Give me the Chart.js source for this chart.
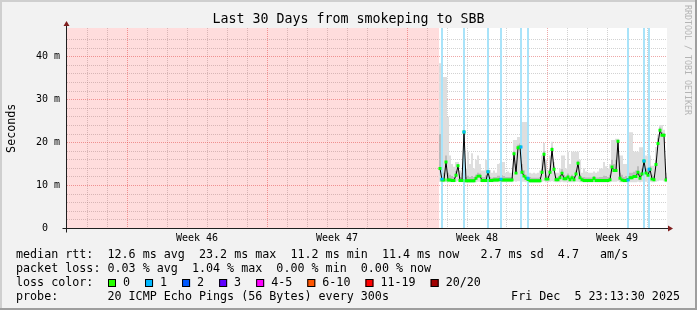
<!DOCTYPE html>
<html>
<head>
<meta charset="utf-8">
<title>smokeping SBB</title>
<style>
  html, body { margin: 0; padding: 0; background: #f2f2f2; }
  canvas { display: block; }
</style>
<script src="https://cdn.jsdelivr.net/npm/chart.js"></script>
</head>
<body>
<canvas id="chart" width="697" height="310"></canvas>
<script>
/* values, time in days from the start of the 30 day window */
var firstDay = 18.65;   // first sample that has data
var stepDay = 0.1;      // one sample every 2.4 h

// median rtt (ms)
var medianRtt = [
  14.0, 11.3, 11.3, 15.5, 11.3, 11.3, 11.2, 11.2, 12.4, 14.6,
  11.2, 11.2, 22.5, 11.1, 11.1, 11.1, 11.1, 11.1, 11.7, 12.2,
  12.2, 11.2, 11.2, 11.2, 13.2, 11.2, 11.2, 11.3, 11.3, 11.3,
  11.4, 11.3, 11.3, 11.3, 11.3, 11.3, 11.3, 17.4, 12.9, 18.8,
  19.0, 13.1, 12.2, 11.7, 11.4, 11.1, 11.1, 11.1, 11.1, 11.1,
  11.1, 13.1, 17.3, 11.5, 11.5, 13.1, 18.4, 13.8, 11.35, 11.35,
  11.8, 12.9, 11.6, 11.6, 12.0, 11.35, 11.8, 11.35, 12.7, 15.2,
  11.8, 11.35, 11.2, 11.2, 11.2, 11.2, 11.2, 11.7, 11.2, 11.2,
  11.2, 11.2, 11.2, 11.2, 11.2, 11.35, 14.3, 13.5, 13.5, 20.3,
  11.7, 11.3, 11.2, 11.2, 11.4, 11.8, 11.8, 12.1, 12.1, 13.1,
  11.7, 12.7, 15.7, 12.9, 12.4, 13.8, 11.5, 11.35, 14.9, 19.8,
  22.9, 21.7, 21.7, 11.3
];
// highest ping of each sample (light smoke top)
var smokeMax = [
  38.5, 38.5, 35.3, 35.3, 26, 17, 15, 14.4, 15.5, 15.5,
  13.5, 13, 50, 14, 17.9, 15, 17.5, 14, 16, 17,
  15, 13.5, 13.5, 16, 19, 13.6, 13, 13.5, 13, 15,
  15.2, 15.5, 15.5, 13, 13.3, 13, 13, 20.6, 20.6, 21.3,
  21.3, 24.8, 24.8, 24.8, 18, 13, 12.8, 13, 12.8, 13,
  13.5, 17, 19.9, 16, 13.5, 17, 20.2, 15.5, 13, 13,
  14, 17, 17, 14, 17.9, 15, 17.9, 17.9, 17.9, 17.9,
  16, 13, 14, 13.3, 13, 13, 13, 13.3, 13, 13.3,
  14, 14, 15.5, 14.5, 14, 15, 20.6, 20.6, 20.9, 20.9,
  17, 17, 15, 15, 14, 22.4, 22.4, 17.9, 17.9, 17.9,
  18.9, 18.9, 18.9, 17, 17, 17, 14.6, 14.6, 19, 22,
  24.1, 24.1, 23, 13
];
// upper edge of the dense smoke above the median
var smokeMid = [
  22, 14, 13, 17, 13, 12.5, 12.2, 12, 13.4, 15,
  12, 11.8, 40, 12, 12.3, 12, 12.2, 12, 12.5, 13,
  12.8, 12, 12, 12.4, 14.5, 12, 11.8, 12, 12, 12.3,
  12.3, 12.4, 12.2, 12, 12, 12, 12, 18, 15, 19.5,
  19.8, 15, 13.5, 12.5, 12.2, 12, 11.8, 11.8, 11.8, 11.8,
  12, 14, 18, 12.5, 12.2, 14, 19, 14.5, 12, 12,
  12.5, 13.8, 12.5, 12.2, 12.8, 12, 12.5, 12.2, 13.5, 15.8,
  12.5, 12, 12, 11.9, 11.9, 11.9, 11.9, 12.2, 11.9, 11.9,
  12, 12, 12.3, 12.2, 12, 12.5, 16, 15, 16, 20.5,
  13, 12.5, 12, 12.2, 12.2, 13, 13, 13.2, 13.5, 14.5,
  13, 14, 16.5, 14, 13.5, 14.5, 12.5, 12.2, 16, 21,
  23.5, 22.5, 22.2, 12
];
// lowest ping of each sample
var smokeMin = [
  10.9, 10.8, 10.8, 10.9, 10.8, 10.8, 10.8, 10.8, 10.9, 11.0,
  10.8, 10.8, 11.0, 10.7, 10.7, 10.7, 10.7, 10.7, 10.8, 10.9,
  10.9, 10.8, 10.8, 10.8, 10.9, 10.8, 10.8, 10.8, 10.8, 10.8,
  10.8, 10.8, 10.8, 10.8, 10.8, 10.8, 10.8, 11.0, 10.9, 11.0,
  11.0, 10.9, 10.9, 10.8, 10.8, 10.7, 10.7, 10.7, 10.7, 10.7,
  10.7, 10.9, 11.0, 10.8, 10.8, 10.9, 11.0, 10.9, 10.8, 10.8,
  10.8, 10.9, 10.8, 10.8, 10.8, 10.8, 10.8, 10.8, 10.9, 10.9,
  10.8, 10.8, 10.7, 10.7, 10.7, 10.7, 10.7, 10.8, 10.7, 10.7,
  10.7, 10.7, 10.7, 10.7, 10.7, 10.8, 10.9, 10.9, 10.9, 11.0,
  10.8, 10.8, 10.7, 10.7, 10.8, 10.8, 10.8, 10.8, 10.8, 10.9,
  10.8, 10.9, 11.0, 10.9, 10.9, 10.9, 10.8, 10.8, 10.9, 11.0,
  11.2, 11.2, 11.0, 10.8
];
// samples with 1/20 packet lost
var lossDays = [18.75, 19.85, 21.05, 21.7, 22.7, 23.05, 28.05, 28.85, 29.1];
var lossRtt  = [11.5, 22.5, 13.2, 11.5, 19.0, 11.7, 11.3, 15.7, 13.8];
// no data before this
var unknownDays = [0, 18.6];

var weekLabels = ['Week 46', 'Week 47', 'Week 48', 'Week 49'];
var weekCenters = [6.5, 13.5, 20.5, 27.5];
var weekLines = [3, 10, 17, 24];
var yTicks = [0, 10, 20, 30, 40];
var yTickLabels = ['0  ', '10 m', '20 m', '30 m', '40 m'];
var yMax = 46.7;

var lossLabels = ['0', '1', '2', '3', '4-5', '6-10', '11-19', '20/20'];
var lossColors = ['#26ff00', '#00b8ff', '#0059ff', '#5e00ff', '#ff00ff', '#ff5500', '#ff0000', '#a10000'];

var legendLines = [
    'median rtt:  12.6 ms avg  23.2 ms max  11.2 ms min  11.4 ms now   2.7 ms sd  4.7   am/s',
    'packet loss: 0.03 % avg  1.04 % max  0.00 % min  0.00 % now',
    'loss color:',
    'probe:       20 ICMP Echo Pings (56 Bytes) every 300s'
];
var stampText = 'Fri Dec  5 23:13:30 2025';
var titleText = 'Last 30 Days from smokeping to SBB';

/* build the datasets */
var days = medianRtt.map(function (v, i) { return firstDay + i * stepDay; });

var medPts = [], lightPts = [], darkPts = [];
for (var i = 0; i < days.length; i++) {
    medPts.push({ x: days[i], y: medianRtt[i] });
    lightPts.push({ x: days[i], y: [smokeMin[i], smokeMax[i]] });
    darkPts.push({ x: days[i], y: [medianRtt[i], smokeMid[i]] });
}
var lossLinePts = lossDays.map(function (d) { return { x: d, y: [0, yMax] }; });
var lossPts = lossDays.map(function (d, i) { return { x: d, y: lossRtt[i] }; });
var unknownPts = unknownDays.map(function (d) { return { x: d, y: yMax }; });

var MONO = "'DejaVu Sans Mono', monospace";
var GRID_MINOR = 'rgba(143,143,143,0.4)';
var GRID_MAJOR = 'rgba(222,79,79,0.5)';

var rrdLook = {
    id: 'rrdLook',
    beforeDraw: function (chart) {
        var ctx = chart.ctx, a = chart.chartArea, w = chart.width, h = chart.height;
        ctx.save();
        ctx.fillStyle = '#f2f2f2';
        ctx.fillRect(0, 0, w, h);
        ctx.fillStyle = '#cfcfcf';
        ctx.fillRect(0, 0, w, 2);
        ctx.fillRect(0, 0, 2, h);
        ctx.fillStyle = '#9e9e9e';
        ctx.fillRect(0, h - 2, w, 2);
        ctx.fillRect(w - 2, 0, 2, h);
        ctx.fillStyle = '#ffffff';
        ctx.fillRect(a.left, a.top, a.right - a.left, a.bottom - a.top);
        ctx.restore();
    },
    afterDraw: function (chart) {
        var ctx = chart.ctx, a = chart.chartArea;
        var xs = chart.scales.x, ys = chart.scales.y;
        var ax = a.left - 0.5, ay = ys.getPixelForValue(0);
        ctx.save();

        // axes
        ctx.strokeStyle = '#1f1f1f';
        ctx.lineWidth = 1;
        ctx.beginPath();
        ctx.moveTo(ax, ay + 4); ctx.lineTo(ax, a.top - 2);
        ctx.moveTo(ax - 4, ay); ctx.lineTo(a.right + 1, ay);
        ctx.stroke();
        ctx.fillStyle = '#801f1f';
        ctx.beginPath();
        ctx.moveTo(ax - 3, a.top - 2); ctx.lineTo(ax + 3, a.top - 2); ctx.lineTo(ax, a.top - 7);
        ctx.closePath(); ctx.fill();
        ctx.beginPath();
        ctx.moveTo(a.right + 1, ay - 3); ctx.lineTo(a.right + 1, ay + 3); ctx.lineTo(a.right + 6, ay);
        ctx.closePath(); ctx.fill();

        // title
        ctx.fillStyle = '#000';
        ctx.font = '13.3px ' + MONO;
        ctx.textAlign = 'center';
        ctx.textBaseline = 'alphabetic';
        ctx.fillText(titleText, chart.width / 2, 23);

        // week labels
        ctx.font = '10px ' + MONO;
        for (var k = 0; k < weekLabels.length; k++) {
            ctx.fillText(weekLabels[k], xs.getPixelForValue(weekCenters[k]), 240.5);
        }

        // y title
        ctx.font = '11.7px ' + MONO;
        ctx.save();
        ctx.translate(14.5, (a.top + a.bottom) / 2);
        ctx.rotate(-Math.PI / 2);
        ctx.fillText('Seconds', 0, 0);
        ctx.restore();

        // watermark
        ctx.save();
        ctx.fillStyle = '#b4b4b4';
        ctx.font = '8.3px ' + MONO;
        ctx.translate(685, 60);
        ctx.rotate(Math.PI / 2);
        ctx.fillText('RRDTOOL / TOBI OETIKER', 0, 0);
        ctx.restore();

        // legend
        ctx.font = '11.7px ' + MONO;
        ctx.textAlign = 'left';
        var base = [258, 272, 286, 300];
        for (var l = 0; l < legendLines.length; l++) {
            ctx.fillText(legendLines[l], 16, base[l]);
        }
        ctx.textAlign = 'right';
        ctx.fillText(stampText, 680, base[3]);
        ctx.textAlign = 'left';
        var bx = 108;
        for (var m = 0; m < lossLabels.length; m++) {
            ctx.fillStyle = lossColors[m];
            ctx.fillRect(bx, 279, 8, 8);
            ctx.strokeStyle = '#000';
            ctx.strokeRect(bx + 0.5, 279.5, 7, 7);
            ctx.fillStyle = '#000';
            ctx.fillText(lossLabels[m], bx + 15, base[2]);
            bx += 30 + 7.04 * lossLabels[m].length;
        }
        ctx.restore();
    }
};

var barCommon = { type: 'bar', grouped: false, barThickness: 2, borderWidth: 0, inflateAmount: 0 };

new Chart(document.getElementById('chart').getContext('2d'), {
    type: 'line',
    data: {
        datasets: [
            { type: 'line', data: unknownPts, fill: 'start', backgroundColor: 'rgba(255,0,0,0.133)',
              borderWidth: 0, pointRadius: 0, order: 10 },
            Object.assign({ data: lightPts, backgroundColor: '#dedede', order: 9 }, barCommon),
            Object.assign({ data: darkPts, backgroundColor: '#bcbcbc', order: 8 }, barCommon),
            Object.assign({ data: lossLinePts, backgroundColor: '#a9e3f9', order: 7 }, barCommon),
            { type: 'line', data: medPts, borderColor: '#000', borderWidth: 1, pointRadius: 0,
              tension: 0, fill: false, order: 6 },
            { type: 'line', data: medPts, showLine: false, pointStyle: 'rect', pointRadius: 2.1,
              pointBackgroundColor: '#00ff00', pointBorderWidth: 0, order: 5 },
            { type: 'line', data: lossPts, showLine: false, pointStyle: 'rect', pointRadius: 2.1,
              pointBackgroundColor: '#00b8ff', pointBorderWidth: 0, order: 4 }
        ]
    },
    options: {
        responsive: false,
        animation: false,
        devicePixelRatio: 1,
        events: [],
        layout: { padding: { top: 28, right: 30, bottom: 81.5, left: 0 } },
        plugins: { legend: { display: false }, tooltip: { enabled: false }, title: { display: false } },
        scales: {
            x: {
                type: 'linear', min: 0, max: 30, offset: false,
                ticks: { stepSize: 1, display: false, autoSkip: false },
                afterBuildTicks: function (s) {
                    s.ticks = s.ticks.filter(function (t) { return t.value > 0 && t.value < 30; });
                },
                afterFit: function (s) { s.height = 0; },
                grid: {
                    offset: false, drawTicks: false, lineWidth: 1,
                    color: function (c) {
                        return weekLines.indexOf(c.tick.value) >= 0 ? GRID_MAJOR : GRID_MINOR;
                    }
                },
                border: { display: false, dash: [1, 1] }
            },
            y: {
                type: 'linear', min: 0, max: yMax,
                ticks: {
                    stepSize: 2, autoSkip: false, padding: 7, color: '#000',
                    font: { family: MONO, size: 10 },
                    callback: function (v) {
                        var j = yTicks.indexOf(v);
                        return j >= 0 ? yTickLabels[j] : '';
                    }
                },
                afterBuildTicks: function (s) {
                    s.ticks = s.ticks.filter(function (t) { return t.value % 2 === 0; });
                },
                afterFit: function (s) { s.width = 67; },
                grid: {
                    drawTicks: false, lineWidth: 1,
                    color: function (c) {
                        return c.tick.value % 10 === 0 ? GRID_MAJOR : GRID_MINOR;
                    }
                },
                border: { display: false, dash: [1, 1] }
            }
        }
    },
    plugins: [rrdLook]
});
</script>
</body>
</html>
